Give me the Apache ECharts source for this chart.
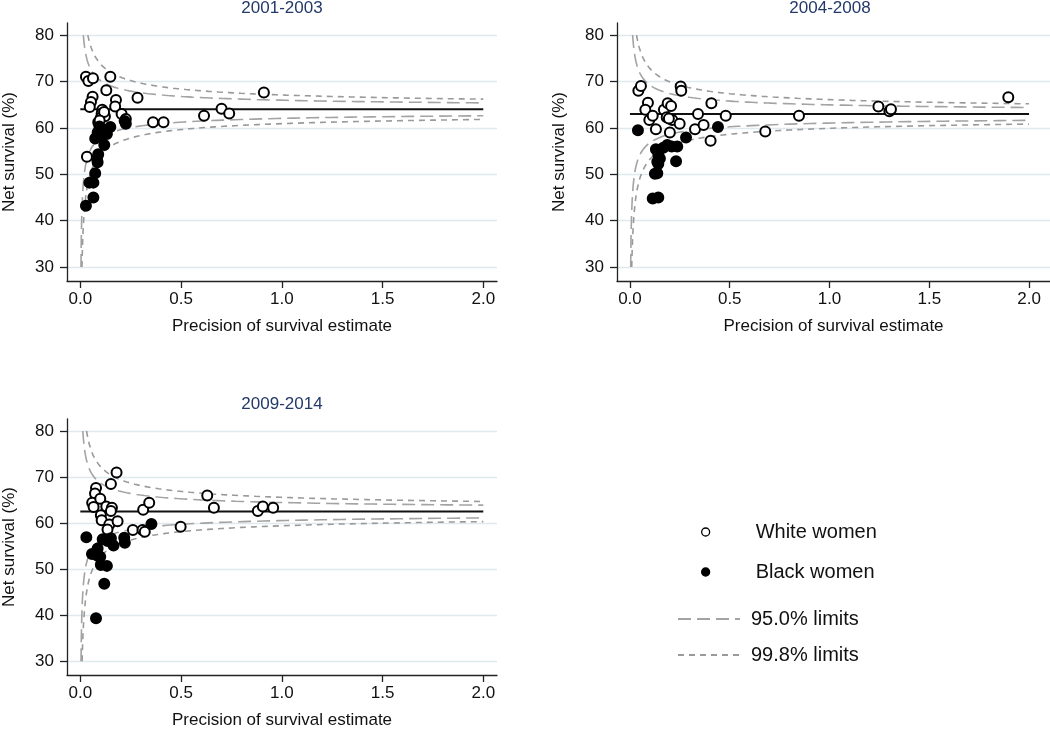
<!DOCTYPE html>
<html><head><meta charset="utf-8">
<script src="https://cdn.jsdelivr.net/npm/echarts@6/dist/echarts.min.js"></script>
<style>html,body{margin:0;padding:0;background:#fff}#c{width:1050px;height:730px}</style>
</head><body><div id="c"></div>
<script>
// ---- data ----
const panelTitles = ['2001-2003', '2004-2008', '2009-2014'];
const yTicks = [30, 40, 50, 60, 70, 80];
const xTicks = [0, 0.5, 1, 1.5, 2];
const targets = [64.0, 63.0, 62.5];           // overall net survival per period
const z95 = 1.96, z998 = 3.09;                 // control-limit multipliers
const precisionEnd = 2.0;

const white2001 = [[0.028,71.0],[0.040,70.1],[0.063,70.7],[0.149,71.0],[0.129,68.1],[0.284,66.5],[0.911,67.6],[0.061,66.7],[0.053,65.6],[0.047,64.5],[0.177,66.0],[0.173,64.6],[0.109,63.9],[0.106,63.1],[0.102,62.2],[0.089,61.2],[0.122,62.5],[0.205,63.0],[0.226,61.9],[0.361,61.2],[0.413,61.2],[0.614,62.6],[0.701,64.1],[0.739,63.1],[0.033,53.8],[0.118,63.4],[0.096,61.6]];
const black2001 = [[0.028,43.2],[0.065,45.0],[0.045,48.2],[0.065,48.2],[0.074,50.2],[0.086,52.6],[0.089,54.3],[0.083,53.4],[0.119,56.3],[0.074,57.7],[0.086,59.0],[0.100,58.0],[0.119,59.5],[0.132,58.7],[0.149,60.2],[0.226,60.9],[0.220,61.5],[0.095,60.3]];

const white2004 = [[0.042,68.0],[0.055,69.0],[0.254,68.9],[0.257,68.0],[0.090,65.4],[0.077,63.9],[0.097,61.7],[0.114,62.6],[0.130,59.7],[0.170,63.9],[0.189,65.3],[0.206,64.7],[0.184,62.3],[0.212,61.7],[0.200,59.0],[0.249,60.9],[0.341,63.0],[0.326,59.7],[0.369,60.6],[0.408,65.3],[0.404,57.2],[0.480,62.6],[0.678,59.2],[0.847,62.6],[1.245,64.6],[1.300,63.6],[1.308,64.0],[1.896,66.6],[0.195,62.0]];
const black2004 = [[0.040,59.5],[0.130,55.4],[0.142,54.2],[0.137,52.7],[0.142,52.2],[0.125,50.1],[0.137,50.2],[0.114,44.8],[0.142,45.0],[0.167,55.7],[0.187,56.3],[0.209,56.0],[0.237,56.0],[0.231,52.8],[0.281,57.9],[0.441,60.2],[0.150,53.4]];

const white2009 = [[0.180,71.0],[0.152,68.5],[0.078,67.6],[0.073,66.4],[0.059,64.4],[0.066,63.5],[0.099,65.3],[0.129,63.6],[0.157,63.3],[0.152,62.6],[0.102,61.7],[0.106,60.6],[0.144,59.7],[0.185,60.4],[0.135,58.6],[0.261,58.5],[0.309,58.5],[0.320,58.1],[0.312,62.9],[0.342,64.4],[0.498,59.2],[0.630,66.0],[0.663,63.3],[0.881,62.6],[0.906,63.6],[0.957,63.3]];
const black2009 = [[0.030,56.9],[0.058,53.3],[0.086,54.5],[0.099,52.7],[0.102,50.9],[0.132,50.7],[0.119,46.8],[0.078,39.3],[0.111,56.5],[0.152,56.7],[0.165,55.1],[0.218,56.8],[0.221,55.7],[0.353,59.8],[0.135,56.1],[0.086,52.9]];

const whiteData = [white2001, white2004, white2009];
const blackData = [black2001, black2004, black2009];

// ---- layout ----
const FONT = 'Liberation Sans, Arial, sans-serif';
const grids = [
  {left: 66, top: 23, width: 431, height: 258},
  {left: 617, top: 23, width: 433, height: 258},
  {left: 66, top: 419, width: 431, height: 258}
];
const xRanges = [[-0.066, 2.068], [-0.065, 2.105], [-0.066, 2.068]];
const titlePos = [[282, 0], [830, 0], [282, 396]];

// funnel limit: target +/- z / sqrt(precision), drawn inside the 30-80 display band
function limitCurve(t, z, dir) {
  const edge = dir > 0 ? yTicks[yTicks.length - 1] : yTicks[0];
  const x0 = Math.pow(z / Math.abs(edge - t), 2);
  const pts = [];
  const n = 160;
  for (let i = 0; i <= n; i++) {
    const x = x0 * Math.pow(precisionEnd / x0, i / n);
    pts.push([x, t + dir * z / Math.sqrt(x)]);
  }
  return pts;
}

const series = [];
const xAxes = [], yAxes = [], titles = [];
for (let p = 0; p < 3; p++) {
  titles.push({
    text: panelTitles[p], left: titlePos[p][0], top: titlePos[p][1], textAlign: 'center', padding: 0,
    textStyle: {fontFamily: FONT, fontSize: 17, fontWeight: 'normal', color: '#23396a'}
  });
  xAxes.push({
    type: 'value', gridIndex: p, min: xRanges[p][0], max: xRanges[p][1],
    name: 'Precision of survival estimate',
    nameLocation: 'middle', nameGap: 37,
    nameTextStyle: {fontFamily: FONT, fontSize: 17, color: '#111'},
    axisLine: {show: true, onZero: false, lineStyle: {color: '#222', width: 1.3}},
    axisTick: {show: true, length: 7, customValues: xTicks, lineStyle: {color: '#222', width: 1.3}},
    axisLabel: {customValues: xTicks, margin: 10, fontFamily: FONT, fontSize: 17, color: '#111',
      formatter: v => v.toFixed(1)},
    splitLine: {show: false}
  });
  yAxes.push({
    type: 'value', gridIndex: p, min: 27, max: 82.6,
    name: 'Net survival (%)', nameLocation: 'middle', nameGap: 49,
    nameTextStyle: {fontFamily: FONT, fontSize: 17, color: '#111'},
    axisLine: {show: true, onZero: false, lineStyle: {color: '#222', width: 1.3}},
    axisTick: {show: true, length: 7, customValues: yTicks, lineStyle: {color: '#222', width: 1.3}},
    axisLabel: {customValues: yTicks, margin: 13, fontFamily: FONT, fontSize: 17, color: '#111'},
    splitLine: {show: true, lineStyle: {color: '#dfe9ef', width: 1.3}}
  });
  const base = {xAxisIndex: p, yAxisIndex: p, animation: false, silent: true};
  // limits
  [[z95, '95.0% limits', [13, 6], '#a3a3a3'], [z998, '99.8% limits', [6, 5], '#9a9a9a']].forEach(([z, nm, dash, col]) => {
    [1, -1].forEach(dir => {
      series.push(Object.assign({}, base, {
        type: 'line', name: nm, data: limitCurve(targets[p], z, dir), symbol: 'none', showSymbol: false,
        legendIcon: 'none',
        lineStyle: {color: col, width: 1.6, type: dash}, itemStyle: {color: col}, z: 2
      }));
    });
  });
  // target line
  series.push(Object.assign({}, base, {
    type: 'line', name: 'target' + p, data: [[xTicks[0], targets[p]], [precisionEnd, targets[p]]],
    symbol: 'none', lineStyle: {color: '#111', width: 2}, z: 3
  }));
  series.push(Object.assign({}, base, {
    type: 'scatter', name: 'White women', data: whiteData[p], symbol: 'circle', symbolSize: 10,
    itemStyle: {color: '#fff', borderColor: '#000', borderWidth: 2, opacity: 1}, z: 4
  }));
  series.push(Object.assign({}, base, {
    type: 'scatter', name: 'Black women', data: blackData[p], symbol: 'circle', symbolSize: 10,
    itemStyle: {color: '#000', borderColor: '#000', borderWidth: 2, opacity: 1}, z: 5
  }));
}

const chart = echarts.init(document.getElementById('c'), null, {renderer: 'canvas'});
chart.setOption({
  backgroundColor: '#fff',
  animation: false,
  title: titles,
  grid: grids,
  xAxis: xAxes,
  yAxis: yAxes,
  legend: [
    {
      data: ['White women', 'Black women'], orient: 'vertical', left: 696, top: 516,
      itemWidth: 8, itemHeight: 8, itemGap: 18, selectedMode: false,
      itemStyle: {borderWidth: 1.3, opacity: 1},
      textStyle: {fontFamily: FONT, fontSize: 20, color: '#111', lineHeight: 22, padding: [0, 0, 0, 41]}
    },
    {
      data: ['95.0% limits', '99.8% limits'], orient: 'vertical', left: 672, top: 603,
      itemWidth: 62, itemHeight: 10, itemGap: 14, selectedMode: false,
      itemStyle: {opacity: 0},
      textStyle: {fontFamily: FONT, fontSize: 20, color: '#111', lineHeight: 22, padding: [0, 0, 0, 6]}
    }
  ],
  series: series
});
</script>
</body></html>
